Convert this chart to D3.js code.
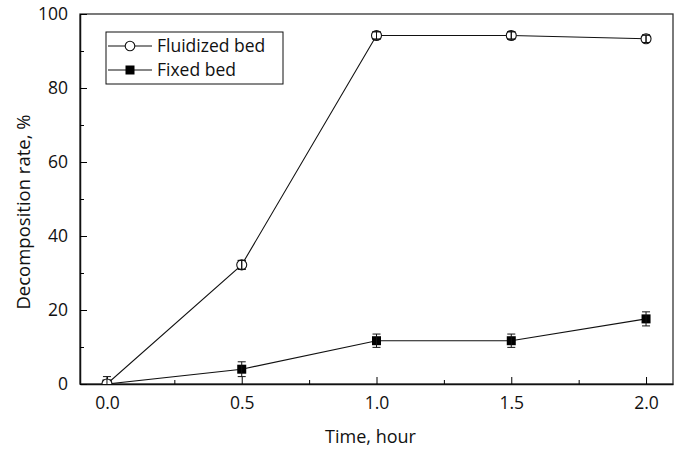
<!DOCTYPE html>
<html>
<head>
<meta charset="utf-8">
<script src="https://cdn.jsdelivr.net/npm/d3@7"></script>
<style>
  body { margin: 0; background: #fff; }
  text { font-family: "Open Sans", "Noto Sans", sans-serif; fill: #111; }
</style>
</head>
<body>
<svg id="chart" width="680" height="449"></svg>
<script>
// data
const times = [0, 0.5, 1.0, 1.5, 2.0];
const fluidized = [0, 32.2, 94.2, 94.2, 93.3];
const fluidizedErr = [2.0, 1.2, 1.0, 1.0, 1.0];
const fixed = [0, 4.0, 11.7, 11.7, 17.6];
const fixedErr = [0, 2.0, 1.8, 1.8, 1.9];
const xTicks = [0, 0.5, 1.0, 1.5, 2.0];
const yTicks = [0, 20, 40, 60, 80, 100];

function renderChart() {
    const margin = { top: 14, right: 7, bottom: 65, left: 80 };
    const width = 680 - margin.left - margin.right;
    const height = 449 - margin.top - margin.bottom;

    const root = d3.select('#chart');
    root.append('defs').append('clipPath').attr('id', 'plot-clip')
        .append('rect').attr('width', width).attr('height', height);

    const svg = root.append('g')
        .attr('transform', `translate(${margin.left},${margin.top})`);

    const xScale = d3.scaleLinear().domain([-0.1, 2.1]).range([0, width]);
    const yScale = d3.scaleLinear().domain([0, 100]).range([height, 0]);

    // frame
    svg.append('rect')
        .attr('width', width).attr('height', height)
        .attr('fill', 'none').attr('stroke', '#333').attr('stroke-width', 1.3);

    const xMinor = d3.range(0.25, 2.01, 0.5);
    const yMinor = d3.range(10, 100, 20);

    const xAxis = svg.append('g')
        .attr('transform', `translate(0,${height})`)
        .call(d3.axisBottom(xScale).tickValues(xTicks).tickFormat(d3.format('.1f'))
            .tickSizeInner(-7).tickSizeOuter(0).tickPadding(13));
    xAxis.select('.domain').attr('stroke', '#111').attr('stroke-width', 1.5);
    xAxis.selectAll('text').style('font-size', '17.5px');

    svg.append('g').attr('transform', `translate(0,${height})`)
        .call(d3.axisBottom(xScale).tickValues(xMinor).tickFormat('').tickSizeInner(-4).tickSizeOuter(0))
        .select('.domain').remove();

    const yAxis = svg.append('g')
        .call(d3.axisLeft(yScale).tickValues(yTicks).tickSizeInner(-7).tickSizeOuter(0).tickPadding(12));
    yAxis.select('.domain').attr('stroke', '#111').attr('stroke-width', 1.5);
    yAxis.selectAll('text').style('font-size', '17.5px');

    svg.append('g')
        .call(d3.axisLeft(yScale).tickValues(yMinor).tickFormat('').tickSizeInner(-4).tickSizeOuter(0))
        .select('.domain').remove();

    const line = d3.line().x(d => xScale(d[0])).y(d => yScale(d[1]));
    const plot = svg.append('g').attr('clip-path', 'url(#plot-clip)');

    function drawSeries(vals, errs, filled) {
        const pts = times.map((t, i) => [t, vals[i], errs[i]]);
        plot.append('path').datum(pts).attr('d', line)
            .attr('fill', 'none').attr('stroke', '#111').attr('stroke-width', 1.1);

        const eb = svg.append('g').attr('stroke', '#111').attr('stroke-width', 1);
        pts.filter(d => d[2] > 0).forEach(d => {
            const x = xScale(d[0]);
            eb.append('line').attr('x1', x).attr('x2', x)
                .attr('y1', yScale(Math.max(0, d[1] - d[2]))).attr('y2', yScale(d[1] + d[2]));
            [d[1] - d[2], d[1] + d[2]].filter(v => v >= 0).forEach(v => {
                eb.append('line').attr('x1', x - 4).attr('x2', x + 4)
                    .attr('y1', yScale(v)).attr('y2', yScale(v));
            });
        });

        if (filled) {
            plot.selectAll(null).data(pts).enter().append('rect')
                .attr('x', d => xScale(d[0]) - 4.5).attr('y', d => yScale(d[1]) - 4.5)
                .attr('width', 9).attr('height', 9).attr('fill', '#000');
        } else {
            plot.selectAll(null).data(pts).enter().append('circle')
                .attr('cx', d => xScale(d[0])).attr('cy', d => yScale(d[1]))
                .attr('r', 5).attr('fill', '#fff').attr('stroke', '#111').attr('stroke-width', 1.1);
            // error bars visible through the open circle
            pts.filter(d => d[1] > 5).forEach(d => {
                const x = xScale(d[0]);
                plot.append('line').attr('x1', x).attr('x2', x)
                    .attr('y1', yScale(d[1] - d[2])).attr('y2', yScale(d[1] + d[2]))
                    .attr('stroke', '#111').attr('stroke-width', 1);
                [d[1] - d[2], d[1] + d[2]].forEach(v => {
                    plot.append('line').attr('x1', x - 4).attr('x2', x + 4)
                        .attr('y1', yScale(v)).attr('y2', yScale(v))
                        .attr('stroke', '#111').attr('stroke-width', 1);
                });
            });
        }
    }

    drawSeries(fixed, fixedErr, true);
    drawSeries(fluidized, fluidizedErr, false);

    // legend
    const lg = svg.append('g').attr('transform', 'translate(26,18)');
    lg.append('rect').attr('width', 177).attr('height', 52)
        .attr('fill', '#fff').attr('stroke', '#111').attr('stroke-width', 1);
    const items = [['Fluidized bed', false], ['Fixed bed', true]];
    items.forEach((it, i) => {
        const y = 14 + i * 24;
        lg.append('line').attr('x1', 2).attr('x2', 46).attr('y1', y).attr('y2', y)
            .attr('stroke', '#111').attr('stroke-width', 1.1);
        if (it[1]) {
            lg.append('rect').attr('x', 24 - 4.5).attr('y', y - 4.5).attr('width', 9).attr('height', 9).attr('fill', '#000');
        } else {
            lg.append('circle').attr('cx', 24).attr('cy', y).attr('r', 4.8)
                .attr('fill', '#fff').attr('stroke', '#111').attr('stroke-width', 1.1);
        }
        lg.append('text').attr('x', 51).attr('y', y).attr('dy', '0.35em')
            .style('font-size', '17.5px').text(it[0]);
    });

    // axis titles
    svg.append('text')
        .attr('text-anchor', 'middle')
        .attr('transform', `translate(${width / 2 - 6},${height + 59})`)
        .style('font-size', '18px')
        .text('Time, hour');

    svg.append('text')
        .attr('text-anchor', 'middle')
        .attr('transform', `translate(${-margin.left + 30},${height / 2 + 13}) rotate(-90)`)
        .style('font-size', '18.5px')
        .text('Decomposition rate, %');
}

renderChart();
</script>
</body>
</html>
